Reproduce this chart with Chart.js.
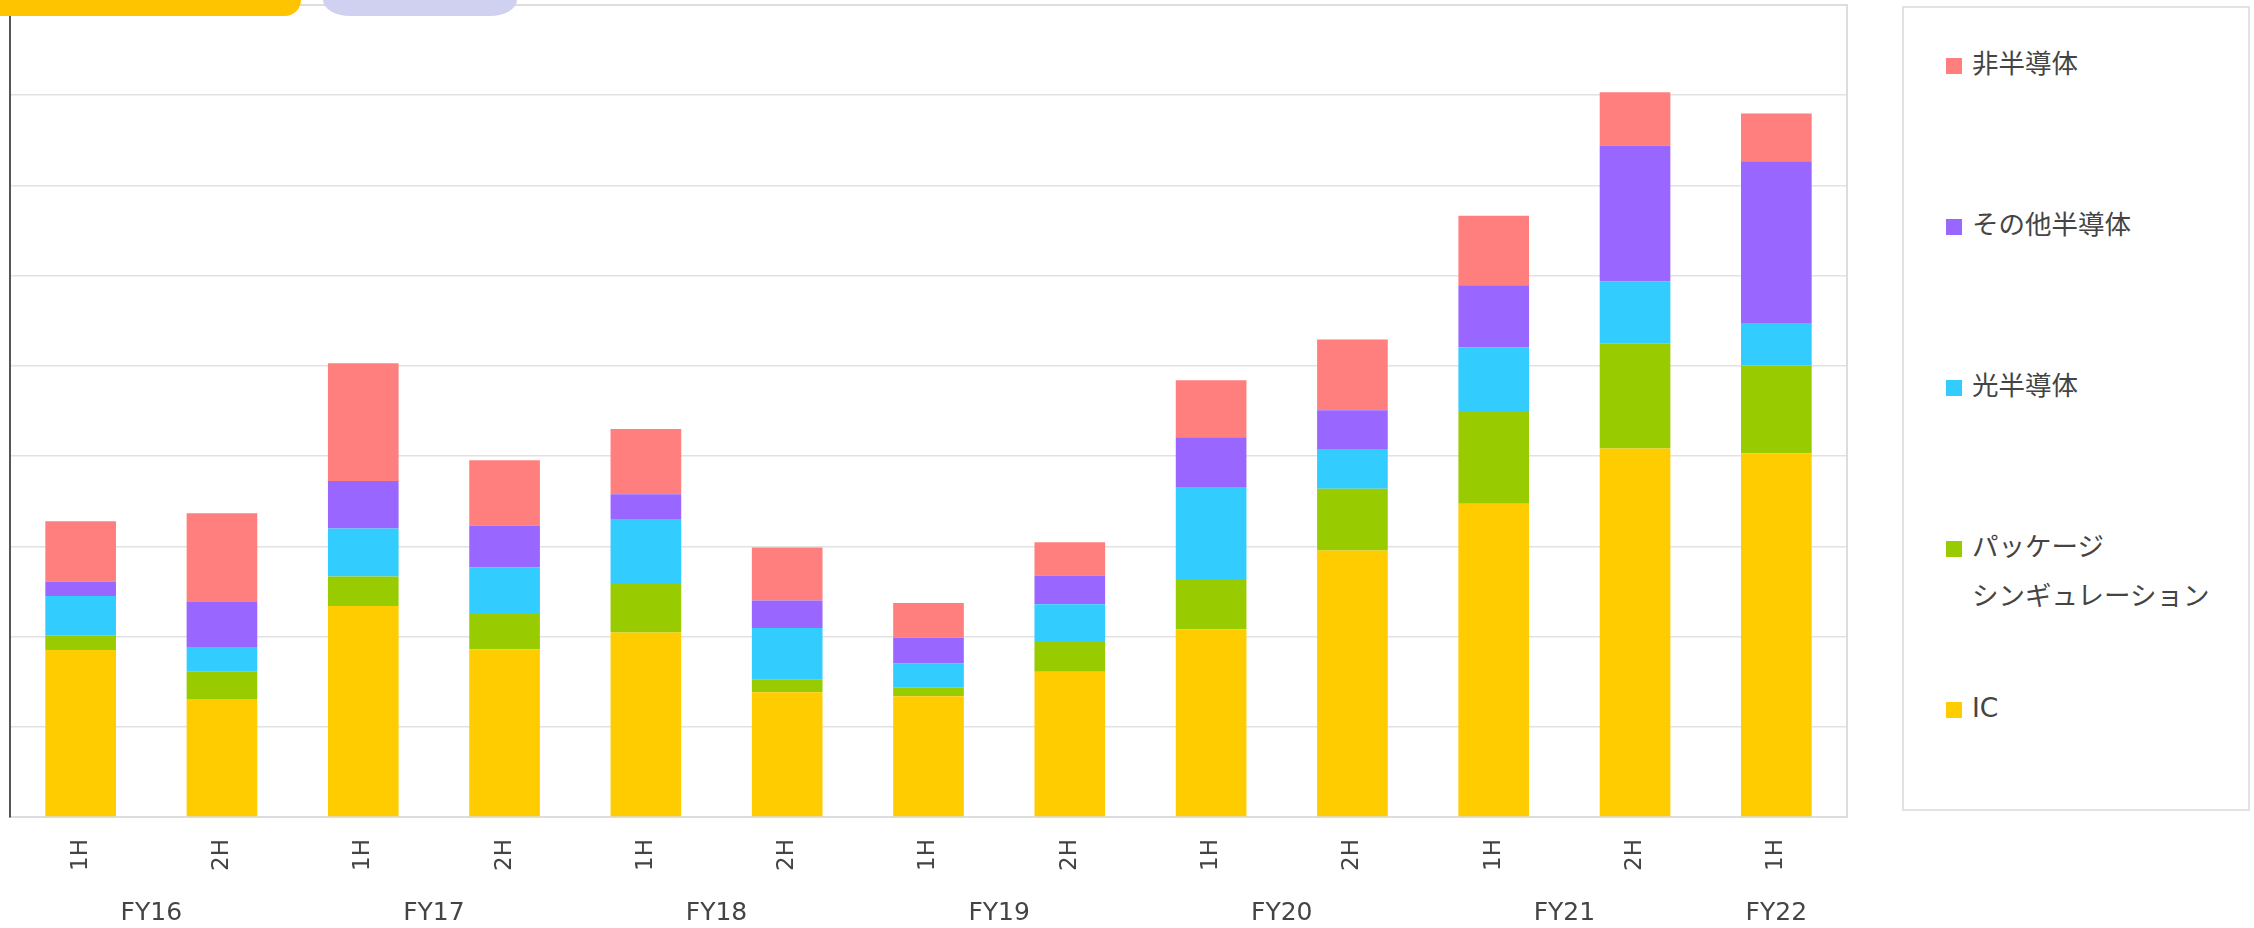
<!DOCTYPE html>
<html lang="ja">
<head>
<meta charset="utf-8">
<title>売上推移</title>
<script src="https://cdn.jsdelivr.net/npm/chart.js@4.4.1/dist/chart.umd.min.js"></script>
<style>
    html, body { margin: 0; padding: 0; background: #fff; overflow: hidden; }
    body { width: 2254px; height: 928px; position: relative; font-family: "DejaVu Sans", "Noto Sans CJK JP", sans-serif; }
    #chartBox { position: absolute; left: 0; top: 0; width: 1850px; height: 928px; }
    .tab-a { position: absolute; left: 0; top: 0; width: 301px; height: 16px; background: #ffc400; border-bottom-right-radius: 16px; z-index: 2; }
    .tab-b { position: absolute; left: 323px; top: 0; width: 194px; height: 16px; background: #d0d0f0; border-radius: 0 0 27px 27px / 0 0 16px 16px; z-index: 2; }
    #legend { position: absolute; left: 1902px; top: 6px; width: 348px; height: 805px; box-sizing: border-box; border: 2px solid #e2e2e2; padding-top: 34px; }
    #legend ul { list-style: none; margin: 0; padding: 0; }
    #legend li { height: 161px; display: flex; align-items: flex-start; padding-left: 42px; }
    #legend .mk { width: 16px; height: 16px; margin-top: 16px; margin-right: 10px; flex: none; }
    #legend .tx { font-family: "DejaVu Sans", "Noto Sans CJK JP", sans-serif; font-size: 26.5px; line-height: 49px; color: #444; white-space: pre-line; position: relative; top: -3px; }
</style>
</head>
<body>
<div class="tab-a"></div>
<div class="tab-b"></div>
<div id="chartBox"><canvas id="salesChart"></canvas></div>
<div id="legend"></div>

<script>
// 期（半期）
const halves = ['1H', '2H', '1H', '2H', '1H', '2H', '1H', '2H', '1H', '2H', '1H', '2H', '1H'];
// 年度ラベルとその位置（カテゴリ番号）
const fiscalYears = ['FY16', 'FY17', 'FY18', 'FY19', 'FY20', 'FY21', 'FY22'];
const fiscalPos = [0.5, 2.5, 4.5, 6.5, 8.5, 10.5, 12];

// 系列（目盛1本 = 100）
const icData = [185.1, 130.8, 234, 186, 204.6, 138.4, 133.9, 160.9, 208.2, 295.5, 347.1, 408.5, 403.2];
const packageData = [16.3, 30.3, 32.5, 40, 54.7, 13.7, 10, 33, 55.5, 68.4, 103, 116.7, 97.1];
const opticalData = [43.6, 27.4, 53.3, 50.6, 71.1, 57.3, 26.3, 41.8, 102.1, 44, 70.2, 68.4, 47.2];
const otherSemiData = [15.9, 49.9, 52.5, 46.6, 27.4, 30.7, 28.5, 32.1, 55.1, 42.9, 69.2, 150.7, 179.3];
const nonSemiData = [67, 98.3, 130.5, 72.1, 72.2, 58.5, 38.4, 36.7, 63.2, 78.4, 76.9, 58.9, 53];

const yMax = 900;
const yStep = 100;

// 凡例をHTMLで作る（上から 非半導体 → IC）
const htmlLegend = {
    id: 'htmlLegend',
    afterUpdate(chart) {
        const box = document.getElementById('legend');
        box.innerHTML = '';
        const ul = document.createElement('ul');
        chart.data.datasets.slice().reverse().forEach(ds => {
            const li = document.createElement('li');
            const mk = document.createElement('span');
            mk.className = 'mk';
            mk.style.background = ds.backgroundColor;
            const tx = document.createElement('span');
            tx.className = 'tx';
            tx.textContent = ds.label;
            li.appendChild(mk);
            li.appendChild(tx);
            ul.appendChild(li);
        });
        box.appendChild(ul);
    }
};

// プロット領域の枠線
const areaFrame = {
    id: 'areaFrame',
    beforeDatasetsDraw(chart) {
        const { ctx, chartArea: a } = chart;
        ctx.save();
        ctx.strokeStyle = '#dddddd';
        ctx.lineWidth = 2;
        ctx.beginPath();
        ctx.moveTo(a.left, a.top);
        ctx.lineTo(a.right, a.top);
        ctx.lineTo(a.right, a.bottom);
        ctx.stroke();
        ctx.restore();
    }
};

function makeDataset(label, data, color) {
    return {
        label: label,
        data: data,
        backgroundColor: color,
        borderWidth: 0,
        barPercentage: 0.5,
        categoryPercentage: 1.0,
        xAxisID: 'x'
    };
}

new Chart(document.getElementById('salesChart'), {
    type: 'bar',
    data: {
        labels: halves,
        datasets: [
            makeDataset('IC', icData, '#ffcc00'),
            makeDataset('パッケージ\nシンギュレーション', packageData, '#99cc00'),
            makeDataset('光半導体', opticalData, '#33ccff'),
            makeDataset('その他半導体', otherSemiData, '#9966ff'),
            makeDataset('非半導体', nonSemiData, '#ff7f7f')
        ]
    },
    options: {
        responsive: true,
        maintainAspectRatio: false,
        animation: false,
        layout: { padding: { top: 5, right: 3, left: 9, bottom: 0 } },
        plugins: {
            legend: { display: false },
            tooltip: { enabled: false }
        },
        scales: {
            x: {
                stacked: true,
                grid: { display: false, drawTicks: false },
                border: { display: true, color: '#dddddd', width: 2 },
                ticks: {
                    minRotation: 90,
                    maxRotation: 90,
                    padding: 22,
                    color: '#444',
                    font: { family: 'DejaVu Sans', size: 23 }
                },
                afterFit(scale) { scale.height = 60; }
            },
            fy: {
                type: 'linear',
                position: 'bottom',
                offset: false,
                bounds: 'data',
                min: -0.5,
                max: halves.length - 0.5,
                grid: { display: false, drawTicks: false },
                border: { display: false },
                afterBuildTicks(scale) {
                    scale.ticks = fiscalPos.map(v => ({ value: v }));
                },
                ticks: {
                    autoSkip: false,
                    maxRotation: 0,
                    padding: 21,
                    color: '#444',
                    font: { family: 'DejaVu Sans', size: 25 },
                    callback(value) {
                        const i = fiscalPos.indexOf(value);
                        return i >= 0 ? fiscalYears[i] : '';
                    }
                },
                afterFit(scale) { scale.height = 51; }
            },
            y: {
                stacked: true,
                min: 0,
                max: yMax,
                ticks: { display: false, stepSize: yStep },
                grid: { color: '#e2e2e2', lineWidth: 1.5, drawTicks: false },
                border: { display: true, color: '#555555', width: 2 },
                afterFit(scale) { scale.width = 1; }
            }
        }
    },
    plugins: [htmlLegend, areaFrame]
});
</script>
</body>
</html>
